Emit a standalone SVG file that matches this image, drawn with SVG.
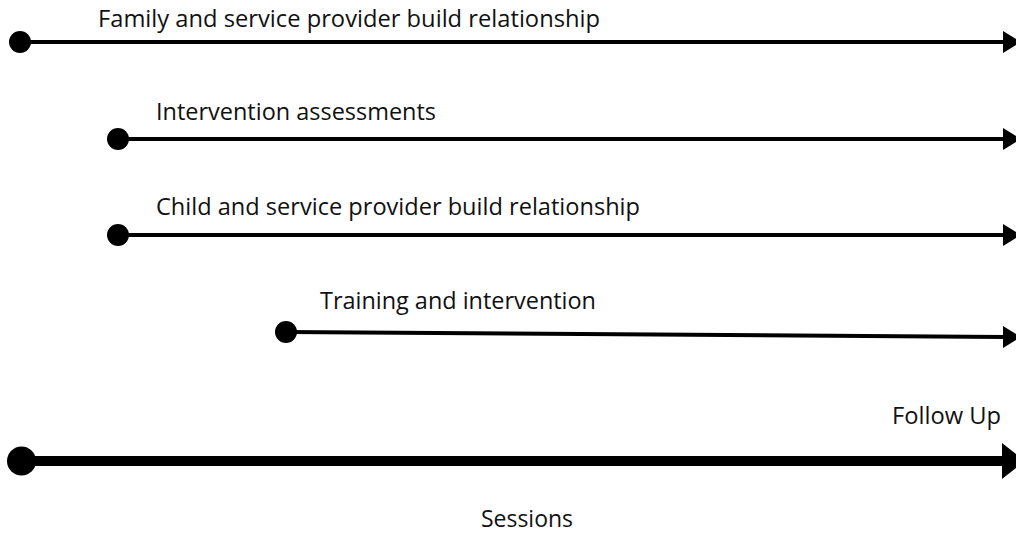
<svg xmlns="http://www.w3.org/2000/svg" width="1016" height="535" viewBox="0 0 1016 535">
  <style>
    .lbl { font-family: "Open Sans", "Liberation Sans", sans-serif; font-size: 24px; fill: #111; }
    .thin { stroke: #000; stroke-width: 4; fill: none; }
    .thick { stroke: #000; stroke-width: 10; fill: none; }
    .dot { fill: #000; }
    .head { fill: #000; }
  </style>
  <rect width="1016" height="535" fill="#fff"/>

  <g id="connectors">
    <!-- Family and service provider -->
    <line class="thin" x1="20" y1="42" x2="1004" y2="42"/>
    <polygon class="head" points="1003,31 1021,42 1003,53"/>
    <!-- Intervention assessments -->
    <line class="thin" x1="118" y1="139" x2="1004" y2="139"/>
    <polygon class="head" points="1003,128 1021,139 1003,150"/>
    <!-- Child and service provider -->
    <line class="thin" x1="118" y1="235" x2="1004" y2="235"/>
    <polygon class="head" points="1003,224 1021,235 1003,246"/>
    <!-- Training and intervention (slight downward slope) -->
    <line class="thin" x1="286" y1="332" x2="1004" y2="337"/>
    <polygon class="head" points="1003,326 1021,337 1003,348"/>
    <!-- Sessions / Follow Up -->
    <line class="thick" x1="22" y1="461" x2="1004" y2="461"/>
    <polygon class="head" points="1002,443 1025,461 1002,479"/>
  </g>

  <g id="family">
    <circle class="dot" cx="20" cy="42" r="11"/>
    <text class="lbl" x="98" y="27" textLength="502" lengthAdjust="spacingAndGlyphs">Family and service provider build relationship</text>
  </g>
  <g id="assessments">
    <circle class="dot" cx="118" cy="139" r="11"/>
    <text class="lbl" x="156" y="120" textLength="280" lengthAdjust="spacingAndGlyphs">Intervention assessments</text>
  </g>
  <g id="child">
    <circle class="dot" cx="118" cy="235" r="11"/>
    <text class="lbl" x="156" y="215" textLength="484" lengthAdjust="spacingAndGlyphs">Child and service provider build relationship</text>
  </g>
  <g id="training">
    <circle class="dot" cx="286" cy="332" r="11"/>
    <text class="lbl" x="320" y="309" textLength="276" lengthAdjust="spacingAndGlyphs">Training and intervention</text>
  </g>
  <g id="sessions">
    <circle class="dot" cx="21.5" cy="461" r="14.5"/>
    <text class="lbl" x="892" y="424" textLength="109" lengthAdjust="spacingAndGlyphs">Follow Up</text>
    <text class="lbl" x="481" y="527" textLength="92" lengthAdjust="spacingAndGlyphs">Sessions</text>
  </g>
</svg>
